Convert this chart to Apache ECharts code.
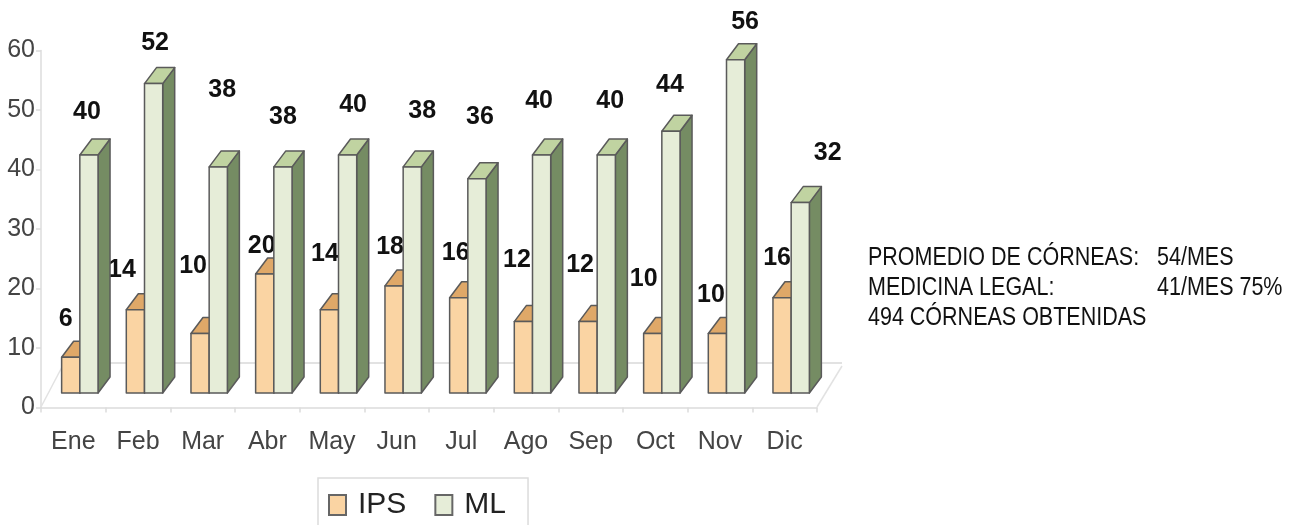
<!DOCTYPE html>
<html><head><meta charset="utf-8">
<style>html,body{margin:0;padding:0;background:#fff}#c{width:1299px;height:525px;filter:blur(0.55px)}</style>
<script src="https://cdn.jsdelivr.net/npm/echarts@6/dist/echarts.min.js"></script>
</head><body><div id="c"></div>
<script>
const months = ['Ene','Feb','Mar','Abr','May','Jun','Jul','Ago','Sep','Oct','Nov','Dic'];
const ipsValues = [6,14,10,20,14,18,16,12,12,10,10,16];
const mlValues = [40,52,38,38,40,38,36,40,40,44,56,32];
const noteLeft = ['PROMEDIO DE CÓRNEAS:','MEDICINA LEGAL:','494 CÓRNEAS OBTENIDAS'];
const noteRight = ['54/MES','41/MES 75%'];
// hand-placed label offsets from the top centre of each bar, as in the source picture
const ipsLabelDx = [-5,-13.5,-7,-3,-4.5,-4,-3,-6.5,-8,-9,-6.5,-5];
const ipsLabelDy = [-38,-40,-67.5,-28,-56,-39,-45,-61,-56,-54.5,-38.5,-40];
const mlLabelDx = [-2,1.5,4,0,5.5,10,3,-2.5,4,-1,9.5,27.5];
const mlLabelDy = [-43,-40,-77,-50,-50,-56,-62,-54,-54,-46,-38,-49];

const FONT = '"Liberation Sans", Arial, sans-serif';
const BW = 18.2, DX = 12, DY = 16, SHIFT = 6.5;
const EDGE = {stroke:'#5a5a5a', lineWidth:1.5, lineJoin:'round'};

function box(face, top, side, slot, dxs, dys) {
  return function (params, api) {
    const i = api.value(0), v = api.value(1);
    const c = api.coord([i, v]);
    const base = api.coord([i, 0]);
    const xl = c[0] + SHIFT + slot * BW, xr = xl + BW, yt = c[1], yb = base[1];
    const poly = (pts, fill) => ({type:'polygon', shape:{points:pts}, style:Object.assign({fill}, EDGE)});
    return {type:'group', children:[
      poly([[xr,yb],[xr+DX,yb-DY],[xr+DX,yt-DY],[xr,yt]], side),
      poly([[xl,yt],[xl+DX,yt-DY],[xr+DX,yt-DY],[xr,yt]], top),
      poly([[xl,yb],[xr,yb],[xr,yt],[xl,yt]], face),
      {type:'text', z2:50, style:{text:String(v), x:(xl+xr)/2+dxs[i], y:yt+dys[i], align:'center', verticalAlign:'middle',
        font:'bold 25px '+FONT, fill:'#111'}}
    ]};
  };
}
const noteText = (t, x, y) => ({type:'text', z:100, x:x, y:y, scaleX:0.86,
  style:{text:t, x:0, y:0, verticalAlign:'middle', font:'25px '+FONT, fill:'#111'}});
const chart = echarts.init(document.getElementById('c'), null, {renderer:'canvas'});
chart.setOption({
  animation:false,
  backgroundColor:'#fff',
  grid:{left:41, top:50.5, width:776, height:357},
  legend:{show:true, left:318, top:478, padding:[12,22,30,10], itemGap:28, itemWidth:17, itemHeight:20,
    icon:'rect', borderColor:'#dcdcdc', borderWidth:1.5,
    textStyle:{fontFamily:FONT, fontSize:30, color:'#222', padding:[8,0,0,7]},
    data:['IPS','ML']},
  xAxis:{type:'category', data:months, boundaryGap:true,
    axisLine:{lineStyle:{color:'#dcdcdc', width:1.5}},
    axisTick:{show:true, alignWithLabel:false, length:5, lineStyle:{color:'#dcdcdc', width:1.5}},
    axisLabel:{fontFamily:FONT, fontSize:25, color:'#444', margin:22}},
  yAxis:[
    {type:'value', min:0, max:60, interval:10,
     axisLine:{show:true, lineStyle:{color:'#dcdcdc', width:1.5}},
     axisTick:{show:true, length:5, lineStyle:{color:'#dcdcdc', width:1.5}},
     splitLine:{show:false},
     axisLabel:{fontFamily:FONT, fontSize:25, color:'#444', margin:6}},
    {type:'value', min:-2.44, max:57.56, show:false}
  ],
  series:[
    {name:'IPS', type:'custom', yAxisIndex:1, clip:false, z:3,
     data:ipsValues.map((v,i)=>[i,v]), encode:{x:0,y:1},
     itemStyle:{color:'#fad4a3', borderColor:'#666', borderWidth:1.5},
     renderItem:box('#fad4a3','#dfa868','#b8905a',-1,ipsLabelDx,ipsLabelDy)},
    {name:'ML', type:'custom', yAxisIndex:1, clip:false, z:4,
     data:mlValues.map((v,i)=>[i,v]), encode:{x:0,y:1},
     itemStyle:{color:'#e6edd8', borderColor:'#666', borderWidth:1.5},
     renderItem:box('#e6edd8','#c0d3a1','#758c63',0,mlLabelDx,mlLabelDy)}
  ],
  graphic:[
    {type:'polyline', z:1, shape:{points:[[41,407],[62,367]]}, style:{stroke:'#e2e2e2', lineWidth:1.5, fill:null}},
    {type:'polyline', z:1, shape:{points:[[62,363],[842,363]]}, style:{stroke:'#e2e2e2', lineWidth:2, fill:null}},
    {type:'polyline', z:1, shape:{points:[[817,407],[842,366]]}, style:{stroke:'#e2e2e2', lineWidth:1.5, fill:null}},
    {type:'rect', z:100, shape:{x:842,y:135,width:20,height:40}, style:{fill:'#fff'}},
    ...noteLeft.map((t,i)=>noteText(t, 868, [258,288,318][i])),
    ...noteRight.map((t,i)=>noteText(t, 1157, [258,288][i]))
  ]
});
</script></body></html>
